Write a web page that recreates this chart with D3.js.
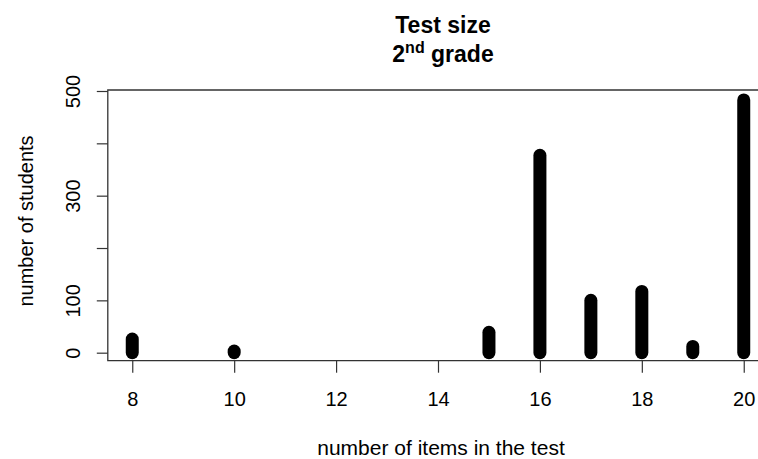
<!DOCTYPE html>
<html>
<head>
    <meta charset="utf-8">
    <title>Test size</title>
    <script src="https://d3js.org/d3.v7.min.js"></script>
    <style>
        body { margin: 0; background: #fff; }
        text { font-family: "Liberation Sans", Arial, sans-serif; fill: #000; }
    </style>
</head>
<body>
    <div id="chart"></div>
    <script>
        // data
        var items = [8, 10, 15, 16, 17, 18, 19, 20];
        var students = [26, 3, 39, 377, 100, 117, 12, 483];
        var xTicks = [8, 10, 12, 14, 16, 18, 20];
        var yTicks = [0, 100, 200, 300, 400, 500];
        var yLabels = [0, 100, 300, 500];

        var W = 758, H = 459;
        var plotL = 107.8, plotR = 768.2, plotT = 90, plotB = 360.7;

        var svg = d3.select("#chart")
            .append("svg")
            .attr("width", W)
            .attr("height", H);

        // R style 4% padding on x
        var x = d3.scaleLinear()
            .domain([7.52, 20.48])
            .range([plotL, plotR]);

        var y = d3.scaleLinear()
            .domain([-15.3, 501.9])
            .range([plotB, plotT]);

        // box (right side falls outside the window)
        svg.append("path")
            .attr("d", "M" + plotR + "," + plotT + "H" + plotL + "V" + plotB + "H" + plotR)
            .attr("fill", "none")
            .attr("stroke", "#333")
            .attr("stroke-width", 1.3);

        // x axis
        var xAxis = svg.append("g")
            .attr("transform", "translate(0," + plotB + ")")
            .call(d3.axisBottom(x).tickValues(xTicks).tickSize(12).tickPadding(19));
        xAxis.select(".domain").remove();
        xAxis.selectAll("line").attr("stroke", "#333").attr("stroke-width", 1.2);
        xAxis.selectAll("text")
            .style("font-size", "20px")
            .style("font-family", "'Liberation Sans', Arial, sans-serif")
            .attr("fill", "#000");

        // y axis
        var yAxis = svg.append("g")
            .attr("transform", "translate(" + plotL + ",0)")
            .call(d3.axisLeft(y).tickValues(yTicks).tickSize(11)
                .tickFormat(function (d) { return yLabels.indexOf(d) >= 0 ? d : ""; }));
        yAxis.select(".domain").remove();
        yAxis.selectAll("line").attr("stroke", "#333").attr("stroke-width", 1.2);
        yAxis.selectAll("text")
            .attr("x", null).attr("dy", null)
            .attr("transform", "translate(-28,0) rotate(-90)")
            .attr("text-anchor", "middle")
            .style("font-size", "20px")
            .style("font-family", "'Liberation Sans', Arial, sans-serif")
            .attr("fill", "#000");

        // spikes
        svg.append("g")
            .selectAll("line")
            .data(items)
            .enter()
            .append("line")
            .attr("x1", function (d) { return x(d); })
            .attr("x2", function (d) { return x(d); })
            .attr("y1", y(0))
            .attr("y2", function (d, i) { return y(students[i]); })
            .attr("stroke", "#000")
            .attr("stroke-width", 13)
            .attr("stroke-linecap", "round");

        // titles
        var cx = 443;
        svg.append("text")
            .attr("x", cx).attr("y", 33)
            .attr("text-anchor", "middle")
            .style("font-size", "23px")
            .style("font-weight", "bold")
            .text("Test size");

        var t2 = svg.append("text")
            .attr("x", cx).attr("y", 61.5)
            .attr("text-anchor", "middle")
            .style("font-size", "23px")
            .style("font-weight", "bold");
        t2.append("tspan").text("2");
        t2.append("tspan").attr("dy", -9).style("font-size", "16px").text("nd");
        t2.append("tspan").attr("dy", 9).text(" grade");

        svg.append("text")
            .attr("x", 441).attr("y", 455)
            .attr("text-anchor", "middle")
            .style("font-size", "21px")
            .text("number of items in the test");

        svg.append("text")
            .attr("transform", "translate(33," + 221 + ") rotate(-90)")
            .attr("text-anchor", "middle")
            .style("font-size", "20px")
            .text("number of students");
    </script>
</body>
</html>
